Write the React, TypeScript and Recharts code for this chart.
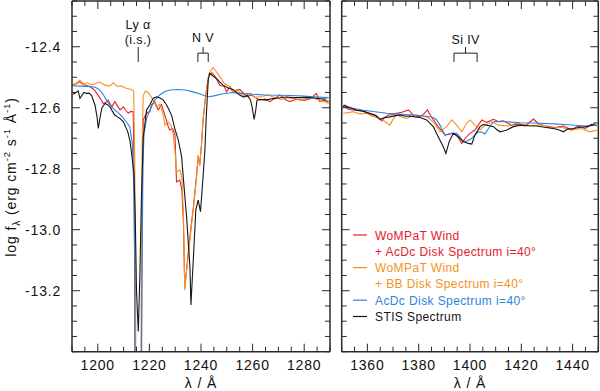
import React from 'react';
import { LineChart, Line, XAxis, YAxis, ReferenceLine, ReferenceDot } from 'recharts';

const FONT = '"Liberation Sans", Arial, Helvetica, sans-serif';
const RED = '#e3202a';
const ORANGE = '#f39323';
const BLUE = '#2b84dc';
const BLACK = '#151515';
const AX = '#2a2a2a';

// ---- Left panel (N V / Ly alpha region) : [wavelength, log flux]
const redLeft = [
  [1190, -12.526], [1191.5, -12.522], [1193, -12.515], [1194.5, -12.525], [1196, -12.528], [1197, -12.531],
  [1198.5, -12.54], [1199.6, -12.553], [1201, -12.57], [1202.1, -12.586], [1203, -12.583], [1204, -12.575],
  [1205.4, -12.597], [1206.6, -12.58], [1208.6, -12.607], [1209.9, -12.597], [1211, -12.61], [1211.8, -12.618],
  [1212.8, -12.612], [1213.7, -12.613], [1214.1, -12.8], [1214.5, -13.6], [1216.8, -13.6], [1217.2, -12.9],
  [1217.6, -12.64], [1218.4, -12.625], [1219.3, -12.615], [1220.2, -12.613], [1220.8, -12.59], [1222.1, -12.58],
  [1223.4, -12.607], [1224.7, -12.59], [1226, -12.624], [1227.3, -12.662], [1227.9, -12.673], [1229, -12.668],
  [1229.9, -12.69], [1230.5, -12.843], [1231.2, -12.84], [1231.8, -12.837], [1232.6, -12.87], [1233.2, -12.98],
  [1233.7, -13.19], [1234.2, -13.15], [1235, -13.08], [1236, -13.0], [1237, -12.93], [1238.3, -12.82],
  [1238.9, -12.76], [1239.5, -12.79], [1240.2, -12.72], [1240.8, -12.64], [1241.8, -12.56], [1243, -12.495],
  [1244.2, -12.485], [1245.3, -12.495], [1247.3, -12.526], [1249, -12.53], [1249.9, -12.548], [1251.2, -12.531],
  [1252.4, -12.548], [1255, -12.54], [1256.2, -12.55], [1257.6, -12.564], [1259.5, -12.558], [1262.8, -12.575],
  [1265, -12.572], [1266.7, -12.58], [1268.5, -12.57], [1270.5, -12.558], [1272.5, -12.572], [1274.4, -12.58],
  [1277, -12.572], [1280, -12.576], [1282.5, -12.57], [1284.7, -12.553], [1286, -12.58], [1287.5, -12.575],
  [1289.5, -12.58],
];

const orangeLeft = [
  [1190, -12.525], [1191.5, -12.521], [1193, -12.51], [1194.5, -12.522], [1196, -12.518], [1197.5, -12.526],
  [1199, -12.521], [1200.8, -12.516], [1202.5, -12.525], [1204.5, -12.529], [1206, -12.519], [1207.5, -12.53],
  [1209, -12.528], [1211, -12.536], [1213, -12.54], [1213.9, -12.545], [1214.3, -12.75], [1214.6, -13.1],
  [1214.8, -13.6], [1216.6, -13.6], [1216.9, -13.1], [1217.2, -12.7], [1217.6, -12.56], [1218.5, -12.545],
  [1219.6, -12.55], [1220.5, -12.562], [1221.5, -12.575], [1222.8, -12.6], [1224.1, -12.588], [1225.3, -12.62],
  [1226, -12.657], [1227.2, -12.645], [1228.5, -12.66], [1229.2, -12.684], [1229.9, -12.74], [1230.6, -12.81],
  [1231.8, -12.804], [1232.6, -12.83], [1233.2, -12.95], [1233.7, -13.198], [1234.2, -13.15], [1235, -13.089],
  [1236, -13.01], [1237, -12.935], [1238.3, -12.826], [1238.9, -12.755], [1239.5, -12.788], [1240.2, -12.72],
  [1240.8, -12.64], [1241.8, -12.56], [1243, -12.49], [1244.7, -12.468], [1245.6, -12.478], [1247.3, -12.498],
  [1249, -12.52], [1251.2, -12.531], [1252.4, -12.548], [1254, -12.54], [1255.5, -12.555], [1257, -12.56],
  [1259, -12.552], [1261, -12.566], [1263.5, -12.563], [1266, -12.558], [1268, -12.565], [1271, -12.573],
  [1273.5, -12.567], [1276, -12.57], [1279, -12.576], [1282, -12.565], [1284, -12.57], [1286, -12.577],
  [1288, -12.58], [1289.5, -12.586],
];

const blueLeft = [
  [1190, -12.528], [1193, -12.529], [1196, -12.53], [1199, -12.533], [1200.5, -12.54], [1202, -12.556],
  [1203.5, -12.576], [1205, -12.594], [1206.5, -12.606], [1208, -12.617], [1209.5, -12.63], [1211, -12.646],
  [1212.4, -12.662], [1213.4, -12.72], [1213.9, -12.85], [1214.3, -13.1], [1214.5, -13.6], [1216.9, -13.6],
  [1217.1, -13.2], [1217.5, -12.8], [1217.9, -12.684], [1218.9, -12.635], [1220.8, -12.597], [1222.1, -12.575],
  [1224, -12.558], [1226, -12.547], [1228, -12.542], [1231, -12.54], [1234, -12.542], [1237, -12.548],
  [1240, -12.556], [1241.5, -12.561], [1243, -12.564], [1245, -12.561], [1248, -12.555], [1252, -12.55],
  [1256, -12.553], [1260, -12.556], [1265, -12.558], [1270, -12.559], [1275, -12.56], [1280, -12.562],
  [1285, -12.565], [1289.5, -12.567],
];

const blackLeft = [
  [1190.5, -12.556], [1191.5, -12.55], [1192.4, -12.545], [1193.1, -12.569], [1193.8, -12.56], [1194.6, -12.55],
  [1195.6, -12.553], [1196.6, -12.552], [1197.6, -12.56], [1198.9, -12.591], [1199.7, -12.63], [1200.2, -12.668],
  [1200.9, -12.63], [1201.6, -12.6], [1202.8, -12.586], [1203.8, -12.59], [1204.7, -12.597], [1205.7, -12.612],
  [1206.6, -12.624], [1207.6, -12.63], [1208.6, -12.635], [1209.9, -12.646], [1210.8, -12.662], [1211.8, -12.684],
  [1212.5, -12.71], [1213.1, -12.75], [1214, -12.815], [1214.5, -12.95], [1215, -13.2], [1215.7, -13.334],
  [1216.3, -13.15], [1216.9, -12.9], [1217.6, -12.7], [1218.9, -12.607], [1220.2, -12.59], [1221.5, -12.569],
  [1222.8, -12.564], [1224.1, -12.568], [1225.4, -12.575], [1226.6, -12.59], [1227.3, -12.602], [1228.6, -12.625],
  [1229.9, -12.67], [1231.2, -12.706], [1232.5, -12.761], [1233.1, -12.826], [1234.4, -12.957], [1235.7, -13.121],
  [1236.1, -13.247], [1237, -13.1], [1238, -12.935], [1238.9, -12.903], [1239.8, -12.941], [1240.8, -12.826],
  [1241.5, -12.74], [1242.1, -12.62], [1242.8, -12.509], [1243.4, -12.487], [1244.5, -12.495], [1246, -12.504],
  [1247.3, -12.516], [1248.6, -12.526], [1250.5, -12.535], [1252.4, -12.54], [1253.7, -12.55], [1255, -12.558],
  [1256.5, -12.565], [1258, -12.56], [1259.2, -12.575], [1259.8, -12.597], [1260.6, -12.638], [1261.2, -12.61],
  [1261.7, -12.575], [1263, -12.572], [1265, -12.575], [1267.9, -12.57], [1270, -12.568], [1273, -12.565],
  [1276, -12.567], [1278.3, -12.567], [1281, -12.566], [1284, -12.568], [1286, -12.57], [1288.6, -12.572],
];

// ---- Right panel (Si IV region)
const redRight = [
  [1350.5, -12.596], [1351.3, -12.591], [1352.5, -12.605], [1355, -12.608], [1358, -12.61], [1361, -12.618],
  [1363.5, -12.625], [1365.6, -12.643], [1367, -12.63], [1368.2, -12.624], [1370, -12.622], [1371.4, -12.618],
  [1373.5, -12.615], [1376, -12.607], [1377.9, -12.624], [1380.5, -12.63], [1382, -12.62], [1383.4, -12.607],
  [1385.1, -12.632], [1387.6, -12.662], [1390.3, -12.69], [1392.9, -12.684], [1394.8, -12.69], [1396.8, -12.717],
  [1398.1, -12.7], [1400, -12.684], [1401.9, -12.673], [1404.6, -12.64], [1406.5, -12.648], [1409.1, -12.638],
  [1411, -12.645], [1413, -12.643], [1416.2, -12.657], [1419, -12.653], [1421.5, -12.66], [1424.7, -12.637],
  [1427, -12.655], [1429.5, -12.66], [1433, -12.665], [1436.4, -12.66], [1439.6, -12.673], [1442, -12.66],
  [1445, -12.668], [1447.4, -12.654], [1449.5, -12.66],
];

const orangeRight = [
  [1350.6, -12.618], [1352.5, -12.616], [1354.5, -12.613], [1357, -12.62], [1359.7, -12.618], [1362, -12.628],
  [1364.9, -12.635], [1366.8, -12.645], [1368.8, -12.657], [1370.2, -12.635], [1371.4, -12.624], [1373.3, -12.63],
  [1375.3, -12.635], [1377.3, -12.628], [1379.2, -12.624], [1381.2, -12.628], [1383.1, -12.63], [1385.7, -12.646],
  [1388.3, -12.679], [1390.9, -12.662], [1392.9, -12.64], [1394.8, -12.657], [1396.8, -12.679], [1398.7, -12.651],
  [1400, -12.64], [1401.9, -12.657], [1403.9, -12.673], [1405.8, -12.657], [1408.5, -12.646], [1411.1, -12.657],
  [1414.9, -12.66], [1418, -12.651], [1421, -12.655], [1424.1, -12.66], [1427.8, -12.655], [1431.8, -12.668],
  [1435.6, -12.664], [1439.6, -12.673], [1443.5, -12.668], [1446.8, -12.679], [1449.5, -12.673],
];

const blueRight = [
  [1350.5, -12.596], [1351.3, -12.599], [1355, -12.603], [1358.4, -12.608], [1363, -12.613], [1367.5, -12.618],
  [1372, -12.621], [1377.9, -12.624], [1382, -12.627], [1385.7, -12.632], [1387, -12.64], [1388.3, -12.657],
  [1389.5, -12.678], [1390.3, -12.69], [1391.5, -12.686], [1392.9, -12.684], [1394.8, -12.684], [1396, -12.695],
  [1397.4, -12.711], [1399, -12.709], [1400.7, -12.7], [1403.2, -12.679], [1404.5, -12.68], [1405.8, -12.686],
  [1407.5, -12.665], [1409.1, -12.646], [1411, -12.645], [1414.3, -12.646], [1419.5, -12.649], [1425, -12.65],
  [1432.5, -12.653], [1438, -12.656], [1445.5, -12.66], [1449.5, -12.657],
];

const blackRight = [
  [1350.5, -12.594], [1351.3, -12.594], [1353.5, -12.6], [1355.8, -12.608], [1358.5, -12.612], [1361, -12.62],
  [1363, -12.625], [1364.9, -12.638], [1366.5, -12.633], [1368.8, -12.63], [1371, -12.626], [1372.7, -12.624],
  [1375, -12.628], [1376.6, -12.627], [1378.5, -12.63], [1380.5, -12.632], [1383.1, -12.64], [1385.7, -12.662],
  [1387.6, -12.695], [1389.6, -12.728], [1390.6, -12.75], [1391.9, -12.711], [1393.5, -12.684], [1395.4, -12.695],
  [1397.4, -12.711], [1399.3, -12.717], [1400.7, -12.719], [1401.9, -12.69], [1403.9, -12.662], [1405.2, -12.655],
  [1406.5, -12.657], [1408, -12.66], [1409.1, -12.662], [1410.5, -12.672], [1411.7, -12.679], [1413, -12.676],
  [1414.3, -12.673], [1416.9, -12.662], [1419.5, -12.657], [1423, -12.659], [1426, -12.66], [1429, -12.664],
  [1432.5, -12.668], [1434.5, -12.672], [1436.4, -12.679], [1438, -12.67], [1440.3, -12.668], [1443, -12.664],
  [1445.5, -12.662], [1448.7, -12.653],
];

// ---- Axes / ticks
const leftXTicks = [1190, 1195, 1200, 1205, 1210, 1215, 1220, 1225, 1230, 1235, 1240, 1245, 1250, 1255, 1260, 1265, 1270, 1275, 1280, 1285, 1290];
const leftXMajor = [1200, 1220, 1240, 1260, 1280];
const rightXTicks = [1350, 1355, 1360, 1365, 1370, 1375, 1380, 1385, 1390, 1395, 1400, 1405, 1410, 1415, 1420, 1425, 1430, 1435, 1440, 1445, 1450];
const rightXMajor = [1360, 1380, 1400, 1420, 1440];
const yTicks = [-13.4, -13.35, -13.3, -13.25, -13.2, -13.15, -13.1, -13.05, -13.0, -12.95, -12.9, -12.85, -12.8, -12.75, -12.7, -12.65, -12.6, -12.55, -12.5, -12.45, -12.4, -12.35, -12.3, -12.25];
const yMajor = [-13.2, -13.0, -12.8, -12.6, -12.4];
const Y_DOMAIN: [number, number] = [-13.4, -12.25];

const legendItems = [
  { color: RED, text: 'WoMPaT Wind', line: true },
  { color: RED, text: '+ AcDc Disk Spectrum i=40°', line: false },
  { color: ORANGE, text: 'WoMPaT Wind', line: true },
  { color: ORANGE, text: '+ BB Disk Spectrum i=40°', line: false },
  { color: BLUE, text: 'AcDc Disk Spectrum i=40°', line: true },
  { color: BLACK, text: 'STIS Spectrum', line: true },
];

const toPts = (a: number[][]) => a.map(([x, y]) => ({ x, y }));
const isIn = (list: number[], v: number) => list.some((m) => Math.abs(m - v) < 1e-6);

const tickText = { fontFamily: FONT, fontSize: 14, letterSpacing: 0.8, fill: '#111' };

const makeXTick = (major: number[], side: 'bottom' | 'top') => (props: any) => {
  const { x, y, payload } = props;
  const v = payload.value;
  const mj = isIn(major, v);
  const len = mj ? 8 : 5;
  const y2 = side === 'bottom' ? y - len : y + len;
  return (
    <g>
      <line x1={x} x2={x} y1={y} y2={y2} stroke={AX} strokeWidth={1} />
      {side === 'bottom' && mj ? (
        <text x={x} y={y + 18.5} textAnchor="middle" {...tickText}>{v}</text>
      ) : null}
    </g>
  );
};

const makeYTick = (side: 'left' | 'right', labels: boolean) => (props: any) => {
  const { x, y, payload } = props;
  const v = payload.value;
  const mj = isIn(yMajor, v);
  const len = mj ? 8 : 5;
  const x2 = side === 'left' ? x + len : x - len;
  return (
    <g>
      <line x1={x} x2={x2} y1={y} y2={y} stroke={AX} strokeWidth={1} />
      {labels && mj ? (
        <text x={x - 11} y={y + 5} textAnchor="end" {...tickText}>{v.toFixed(1)}</text>
      ) : null}
    </g>
  );
};

const annText = { fontFamily: FONT, fontSize: 12.5, fill: '#111', letterSpacing: 0.4 };

function Panel(props: {
  width: number;
  margin: { top: number; right: number; bottom: number; left: number };
  domain: [number, number];
  ticks: number[];
  major: number[];
  red: number[][];
  orange: number[][];
  blue: number[][];
  black: number[][];
  yLabels: boolean;
  children?: React.ReactNode;
}) {
  const { width, margin, domain, ticks, major, red, orange, blue, black, yLabels } = props;
  const axisLine = { stroke: AX, strokeWidth: 1.5 };
  return (
    <LineChart width={width} height={391} margin={margin}>
      <XAxis xAxisId="b" type="number" dataKey="x" domain={domain} allowDataOverflow ticks={ticks} interval={0}
        height={1} tickSize={0} tickMargin={0} tickLine={false} axisLine={axisLine}
        tick={makeXTick(major, 'bottom')} orientation="bottom" />
      <XAxis xAxisId="t" type="number" dataKey="x" domain={domain} allowDataOverflow ticks={ticks} interval={0}
        height={1} tickSize={0} tickMargin={0} tickLine={false} axisLine={axisLine}
        tick={makeXTick(major, 'top')} orientation="top" />
      <YAxis yAxisId="l" type="number" domain={Y_DOMAIN} allowDataOverflow ticks={yTicks} interval={0}
        width={1} tickSize={0} tickMargin={0} tickLine={false} axisLine={axisLine}
        tick={makeYTick('left', yLabels)} orientation="left" />
      <YAxis yAxisId="r" type="number" domain={Y_DOMAIN} allowDataOverflow ticks={yTicks} interval={0}
        width={1} tickSize={0} tickMargin={0} tickLine={false} axisLine={axisLine}
        tick={makeYTick('right', false)} orientation="right" />
      <Line xAxisId="b" yAxisId="l" data={toPts(red)} dataKey="y" stroke={RED} strokeWidth={1.1} dot={false} isAnimationActive={false} />
      <Line xAxisId="b" yAxisId="l" data={toPts(orange)} dataKey="y" stroke={ORANGE} strokeWidth={1.1} dot={false} isAnimationActive={false} />
      <Line xAxisId="b" yAxisId="l" data={toPts(blue)} dataKey="y" stroke={BLUE} strokeWidth={1.1} dot={false} isAnimationActive={false} />
      <Line xAxisId="b" yAxisId="l" data={toPts(black)} dataKey="y" stroke={BLACK} strokeWidth={1.1} dot={false} isAnimationActive={false} />
      {props.children}
    </LineChart>
  );
}

const seg = (x1: number, y1: number, x2: number, y2: number, key: string) => (
  <ReferenceLine key={key} xAxisId="b" yAxisId="l" segment={[{ x: x1, y: y1 }, { x: x2, y: y2 }]}
    stroke="#222" strokeWidth={1} ifOverflow="visible" />
);

const lbl = (x: number, y: number, text: string, key: string) => (
  <ReferenceDot key={key} xAxisId="b" yAxisId="l" x={x} y={y} r={0} fill="none" stroke="none" ifOverflow="visible"
    label={{ value: text, position: 'center', ...annText }} />
);

const bracket = (a: number, b: number, key: string) => {
  const m = (a + b) / 2;
  return [
    seg(m, -12.401, m, -12.421, key + 's'),
    seg(a, -12.421, b, -12.421, key + 'h'),
    seg(a, -12.421, a, -12.45, key + 'a'),
    seg(b, -12.421, b, -12.45, key + 'b'),
  ];
};

export default function App() {
  return (
    <div style={{ position: 'absolute', left: 0, top: 0, width: 600, height: 391, background: '#fff', overflow: 'hidden' }}>
      <div style={{ position: 'absolute', left: 0, top: 0 }}>
        <Panel width={340} margin={{ top: 0, right: 9, bottom: 38.3, left: 71 }} domain={[1190, 1290]}
          ticks={leftXTicks} major={leftXMajor} red={redLeft} orange={orangeLeft} blue={blueLeft} black={blackLeft} yLabels>
          {seg(1215.67, -12.401, 1215.67, -12.45, 'lya')}
          {bracket(1238.8, 1242.8, 'nv')}
          {lbl(1215.6, -12.326, 'Ly α', 'l1')}
          {lbl(1215.6, -12.378, '(i.s.)', 'l2')}
          {lbl(1240.8, -12.371, 'N V', 'l3')}
        </Panel>
      </div>
      <div style={{ position: 'absolute', left: 330, top: 0 }}>
        <Panel width={270} margin={{ top: 0, right: 0.7, bottom: 38.3, left: 10.7 }} domain={[1350, 1450]}
          ticks={rightXTicks} major={rightXMajor} red={redRight} orange={orangeRight} blue={blueRight} black={blackRight} yLabels={false}>
          {bracket(1393.76, 1402.77, 'si')}
          {lbl(1398.3, -12.375, 'Si IV', 'l4')}
        </Panel>
      </div>
      <svg width={600} height={391} style={{ position: 'absolute', left: 0, top: 0, pointerEvents: 'none' }}>
        <text transform="translate(16,177) rotate(-90)" textAnchor="middle" fontFamily={FONT} fontSize={14} letterSpacing={0.9} fill="#111">
          <tspan>log f</tspan>
          <tspan fontSize={10} dy={4}>λ</tspan>
          <tspan dy={-4}> (erg cm</tspan>
          <tspan fontSize={9.5} dy={-6}>-2</tspan>
          <tspan dy={6}> s</tspan>
          <tspan fontSize={9.5} dy={-6}>-1</tspan>
          <tspan dy={6}> Å</tspan>
          <tspan fontSize={9.5} dy={-6}>-1</tspan>
          <tspan dy={6}>)</tspan>
        </text>
        <text x={201} y={388} textAnchor="middle" fontFamily={FONT} fontSize={14} letterSpacing={0.9} fill="#111">λ / Å</text>
        <text x={470} y={388} textAnchor="middle" fontFamily={FONT} fontSize={14} letterSpacing={0.9} fill="#111">λ / Å</text>
        {legendItems.map((it, i) => {
          const cy = 235 + i * 16.3;
          return (
            <g key={i}>
              {it.line ? <line x1={353} x2={367} y1={cy} y2={cy} stroke={it.color} strokeWidth={1.2} /> : null}
              <text x={375} y={cy + 4.5} fontFamily={FONT} fontSize={12} letterSpacing={0.4} fill={it.color}>{it.text}</text>
            </g>
          );
        })}
      </svg>
    </div>
  );
}
